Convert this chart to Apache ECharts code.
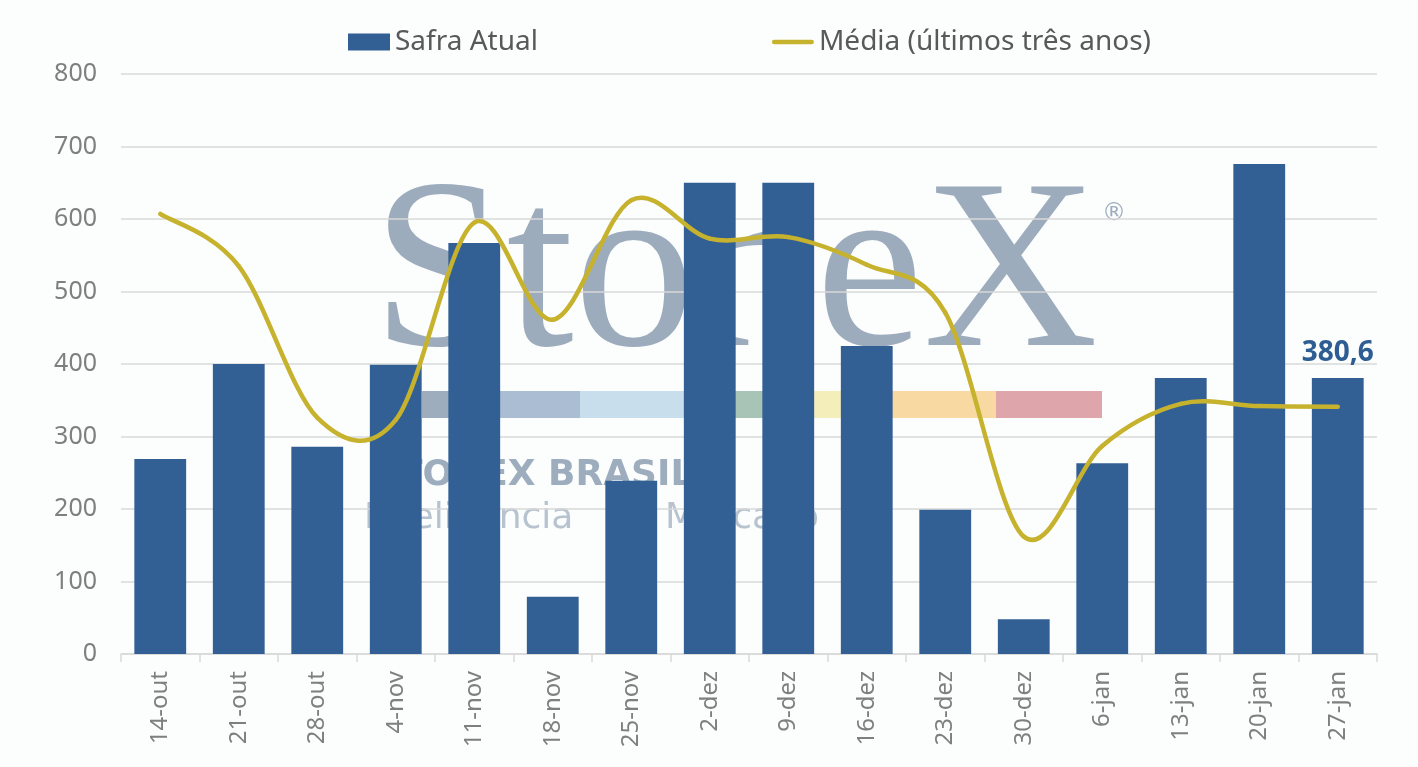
<!DOCTYPE HTML>
<html>
<head>
	<meta charset="utf-8">
	<title>Safra Atual x Média</title>
	<script src="https://cdn.jsdelivr.net/npm/echarts@6/dist/echarts.min.js"></script>
	<style>
		html, body { margin: 0; padding: 0; background: #fcfdfd; }
		#main { width: 1418px; height: 767px; }
	</style>
</head>
<body>
	<div id="main"></div>
	<script type="text/javascript">
		// dados
		var categorias = ['14-out', '21-out', '28-out', '4-nov', '11-nov', '18-nov', '25-nov', '2-dez',
			'9-dez', '16-dez', '23-dez', '30-dez', '6-jan', '13-jan', '20-jan', '27-jan'];
		var safraAtual = [269, 400, 286, 399, 567, 79, 239, 650, 650, 425, 199, 48, 263, 380.7, 676, 380.6];
		var media = [607, 535, 326, 323, 595, 461, 626, 573, 575, 537, 471, 162, 287, 345, 342, 341];
		var yTicks = [0, 100, 200, 300, 400, 500, 600, 700, 800];

		var fonte = '"Noto Sans", sans-serif';
		var cinza = '#7f7f7f';
		var linhaGrade = '#d9d9d9';
		var corLinha = '#c6b22d';
		var marca = '#9dacbc';

		// curva suavizada tipo excel (catmull-rom -> bezier), usando as escalas do echarts
		function desenhaMedia(params, api) {
			var i = params.dataIndex;
			var n = media.length;
			if (i >= n - 1) return null;
			var p0 = api.coord([Math.max(i - 1, 0), media[Math.max(i - 1, 0)]]);
			var p1 = api.coord([i, media[i]]);
			var p2 = api.coord([i + 1, media[i + 1]]);
			var p3 = api.coord([Math.min(i + 2, n - 1), media[Math.min(i + 2, n - 1)]]);
			return {
				type: 'bezierCurve',
				z2: 10,
				shape: {
					x1: p1[0], y1: p1[1],
					x2: p2[0], y2: p2[1],
					cpx1: p1[0] + (p2[0] - p0[0]) / 6, cpy1: p1[1] + (p2[1] - p0[1]) / 6,
					cpx2: p2[0] - (p3[0] - p1[0]) / 6, cpy2: p2[1] - (p3[1] - p1[1]) / 6
				},
				style: { fill: null, stroke: corLinha, lineWidth: 4.5, lineCap: 'round' }
			};
		}

		window.onload = function() {
			var myChart = echarts.init(document.getElementById('main'));
			var ultimo = safraAtual.length - 1;

			var option = {
				backgroundColor: '#fcfdfd',
				animation: false,
				textStyle: { fontFamily: fonte },
				legend: {
					left: 348,
					top: 28,
					padding: 0,
					itemWidth: 42,
					itemHeight: 17,
					itemGap: 234,
					textStyle: { fontSize: 28, color: '#595959', fontFamily: fonte },
					data: [
						{ name: 'Safra Atual', icon: 'rect' },
						{ name: 'Média (últimos três anos)',
							icon: 'path://M0,0L0,0M45,17L45,17M2.5,6L42.5,6A2.5,2.5,0,0,1,42.5,11L2.5,11A2.5,2.5,0,0,1,2.5,6Z' }
					]
				},
				grid: {
					left: 121,
					right: 41,
					top: 74,
					bottom: 113
				},
				// marca d'água
				graphic: {
					elements: [
						{ type: 'text', z: -10, silent: true, style: { text: 'StoneX', x: 372, y: 281, verticalAlign: 'middle',
							font: '242px "Liberation Serif", serif', fill: marca } },
						{ type: 'text', z: -10, silent: true, style: { text: '®', x: 1102, y: 214, verticalAlign: 'middle',
							font: '24px "DejaVu Sans", sans-serif', fill: marca } },
						{ type: 'rect', z: -10, silent: true, shape: { x: 422, y: 391, width: 38, height: 27 }, style: { fill: '#9dadbe' } },
						{ type: 'rect', z: -10, silent: true, shape: { x: 460, y: 391, width: 120, height: 27 }, style: { fill: '#abbdd3' } },
						{ type: 'rect', z: -10, silent: true, shape: { x: 580, y: 391, width: 105, height: 27 }, style: { fill: '#c8deed' } },
						{ type: 'rect', z: -10, silent: true, shape: { x: 685, y: 391, width: 103, height: 27 }, style: { fill: '#a8c4b7' } },
						{ type: 'rect', z: -10, silent: true, shape: { x: 788, y: 391, width: 104, height: 27 }, style: { fill: '#f4eebb' } },
						{ type: 'rect', z: -10, silent: true, shape: { x: 892, y: 391, width: 104, height: 27 }, style: { fill: '#f8d9a1' } },
						{ type: 'rect', z: -10, silent: true, shape: { x: 996, y: 391, width: 106, height: 27 }, style: { fill: '#dea6aa' } },
						{ type: 'text', z: -10, silent: true, style: { text: 'STONEX BRASIL', x: 372, y: 476, verticalAlign: 'middle',
							font: 'bold 36px "DejaVu Sans", sans-serif', fill: '#9dadbe' } },
						{ type: 'text', z: -10, silent: true, style: { text: 'Inteligência', x: 364, y: 519, verticalAlign: 'middle',
							font: '36px "DejaVu Sans", sans-serif', fill: '#b8c3d0' } },
						{ type: 'text', z: -10, silent: true, style: { text: 'de', x: 604, y: 519, verticalAlign: 'middle',
							font: '36px "DejaVu Sans", sans-serif', fill: '#b8c3d0' } },
						{ type: 'text', z: -10, silent: true, style: { text: 'Mercado', x: 665, y: 519, verticalAlign: 'middle',
							font: '36px "DejaVu Sans", sans-serif', fill: '#b8c3d0' } }
					]
				},
				xAxis: {
					type: 'category',
					data: categorias,
					boundaryGap: true,
					axisLine: { lineStyle: { color: linhaGrade, width: 1.5 } },
					axisTick: { show: true, length: 8, lineStyle: { color: linhaGrade, width: 1.5 } },
					axisLabel: { rotate: 90, fontSize: 24, color: cinza, margin: 17, fontFamily: fonte }
				},
				yAxis: {
					type: 'value',
					min: yTicks[0],
					max: yTicks[yTicks.length - 1],
					interval: 100,
					axisLine: { show: false },
					axisTick: { show: false },
					axisLabel: { fontSize: 25, color: cinza, margin: 24, fontFamily: fonte },
					splitLine: { lineStyle: { color: linhaGrade, width: 1.5 } }
				},
				series: [
					{
						name: 'Safra Atual',
						type: 'bar',
						z: 2,
						barWidth: '66%',
						itemStyle: { color: '#325f94' },
						label: {
							show: true,
							position: 'top',
							distance: 11,
							fontSize: 28,
							fontWeight: 'bold',
							color: '#2e5d93',
							fontFamily: fonte,
							formatter: function(p) {
								if (p.dataIndex !== ultimo) return '';
								return p.value.toFixed(1).replace('.', ',');
							}
						},
						data: safraAtual
					},
					{
						name: 'Média (últimos três anos)',
						type: 'custom',
						z: 5,
						renderItem: desenhaMedia,
						clip: false,
						itemStyle: { color: corLinha },
						encode: { x: 0, y: 1 },
						data: media.map(function(v, i) { return [i, v]; })
					}
				]
			};
			myChart.setOption(option);
		};
	</script>
</body>
</html>
